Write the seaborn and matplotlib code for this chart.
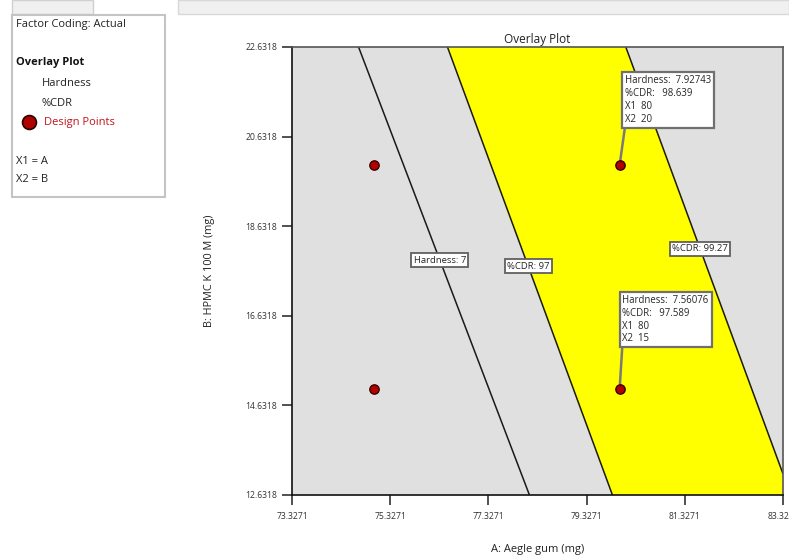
import numpy as np
import pandas as pd
import matplotlib
matplotlib.use("Agg")
import matplotlib.pyplot as plt
from matplotlib.patches import Rectangle
from matplotlib.lines import Line2D
import seaborn as sns

# Factor ranges (actual units) and tick positions
a_range = [73.3271, 83.3271]
b_range = [12.6318, 22.6318]
a_ticks = [73.3271, 75.3271, 77.3271, 79.3271, 81.3271, 83.3271]
b_ticks = [12.6318, 14.6318, 16.6318, 18.6318, 20.6318, 22.6318]

# Design points (A: Aegle gum, B: HPMC K 100 M)
design_a = [75, 75, 80, 80]
design_b = [15, 20, 15, 20]

# Linear response models: [value at A=80, B=15, slope per mg A, slope per mg B]
hardness_model = [7.56076, 0.2107, 0.07333]
cdr_model = [97.589, 0.625, 0.21]

# Contour levels shown on the overlay
hardness_levels = [7]
cdr_levels = [97, 99.27]
# B value where each contour label sits
hardness_label_b = [17.877]
cdr_label_b = [17.74, 18.13]

# Flagged points
flag_a = [80, 80]
flag_b = [20, 15]
flag_hardness = [7.92743, 7.56076]
flag_cdr = [98.639, 97.589]

W, H = 789, 556
sns.set_style("white")
plt.rcParams["font.family"] = ["Open Sans", "DejaVu Sans"]

fig = plt.figure(figsize=(W / 100, H / 100), dpi=100)


def fx(px):
    return px / W


def fy(py):
    return 1 - py / H


ax = fig.add_axes([fx(292), fy(495), fx(783) - fx(292), fy(47) - fy(495)])
ax.set_facecolor("#e0e0e0")


def model(coef, a, b):
    return coef[0] + coef[1] * (np.asarray(a) - 80) + coef[2] * (np.asarray(b) - 15)


def contour_a(coef, level, b):
    return 80 + (level - coef[0] - coef[2] * (b - 15)) / coef[1]


ga, gb = np.meshgrid(np.linspace(a_range[0], a_range[1], 300),
                     np.linspace(b_range[0], b_range[1], 300))
hard = model(hardness_model, ga, gb)
cdr = model(cdr_model, ga, gb)

# Feasible window: %CDR within limits and hardness above its limit
feasible = np.where((cdr >= cdr_levels[0]) & (cdr <= cdr_levels[1]) & (hard >= hardness_levels[0]), 1.0, 0.0)
ax.contourf(ga, gb, feasible, levels=[0.5, 1.5], colors=["#ffff00"], zorder=1)
ax.contour(ga, gb, hard, levels=hardness_levels, colors="#1a1a1a", linewidths=1.1, zorder=2)
ax.contour(ga, gb, cdr, levels=cdr_levels, colors="#1a1a1a", linewidths=1.1, zorder=2)

label_box = dict(boxstyle="square,pad=0.25", fc="white", ec="#606060", lw=1.3)
for lvl, b in zip(hardness_levels, hardness_label_b):
    ax.text(contour_a(hardness_model, lvl, b), b, f"Hardness: {lvl:g}", fontsize=6.8,
            ha="center", va="center", bbox=label_box, zorder=4)
for lvl, b in zip(cdr_levels, cdr_label_b):
    ax.text(contour_a(cdr_model, lvl, b), b, f"%CDR: {lvl:g}", fontsize=6.8,
            ha="center", va="center", bbox=label_box, zorder=4)

pts = pd.DataFrame({"A": design_a, "B": design_b})
sns.scatterplot(data=pts, x="A", y="B", ax=ax, s=45, color="#b00000",
                edgecolor="#3a0000", linewidth=1.0, zorder=6, legend=False)

offsets = [(4.1, 29.0), (2.0, 32.0)]
for a, b, h, c, off in zip(flag_a, flag_b, flag_hardness, flag_cdr, offsets):
    txt = f"Hardness:  {h:g}\n%CDR:   {c:g}\nX1  {a:g}\nX2  {b:g}"
    ax.annotate(txt, xy=(a, b), xytext=off, textcoords="offset points",
                ha="left", va="bottom", fontsize=6.9, linespacing=1.22,
                bbox=dict(boxstyle="square,pad=0.3", fc="white", ec="#707070", lw=1.6),
                arrowprops=dict(arrowstyle="-", color="#7a7a7a", lw=1.8,
                                relpos=(0, 0), shrinkA=0, shrinkB=3),
                zorder=5)

ax.set_xlim(a_range)
ax.set_ylim(b_range)
ax.set_xticks(a_ticks)
ax.set_yticks(b_ticks)
ax.set_xticklabels([f"{t:.4f}" for t in a_ticks])
ax.set_yticklabels([f"{t:.4f}" for t in b_ticks])
ax.tick_params(axis="x", bottom=True, direction="out", length=7, width=1.1,
               color="#222222", labelsize=6.2, pad=5.5)
ax.tick_params(axis="y", left=True, direction="out", length=7.2, width=1.1,
               color="#222222", labelsize=6.2, pad=3.6)
for t in ax.get_xticklabels() + ax.get_yticklabels():
    t.set_color("#333333")
for side in ["left", "bottom"]:
    ax.spines[side].set_color("#111111")
    ax.spines[side].set_linewidth(1.2)
for side in ["top", "right"]:
    ax.spines[side].set_color("#555555")
    ax.spines[side].set_linewidth(1.2)
    ax.spines[side].set_visible(True)

ax.set_title("Overlay Plot", fontsize=8.5, color="#222222", pad=3)
ax.set_xlabel("A: Aegle gum (mg)", fontsize=8, color="#222222", labelpad=16)
ax.set_ylabel("B: HPMC K 100 M (mg)", fontsize=7.8, color="#222222", labelpad=22)

# Window chrome along the top edge
fig.add_artist(Rectangle((fx(12), fy(14)), fx(93) - fx(12), fy(0) - fy(14),
                         transform=fig.transFigure, fc="#f0f0f0", ec="#d0d0d0", lw=1))
fig.add_artist(Rectangle((fx(178), fy(14)), fx(789) - fx(178), fy(0) - fy(14),
                         transform=fig.transFigure, fc="#f0f0f0", ec="#d8d8d8", lw=1))

# Legend panel
fig.add_artist(Rectangle((fx(12), fy(197)), fx(165) - fx(12), fy(15) - fy(197),
                         transform=fig.transFigure, fc="white", ec="#c4c4c4", lw=1.5))
fs = 8
fig.text(fx(16), fy(25), "Factor Coding: Actual", fontsize=fs, va="center", color="#222222")
fig.text(fx(16), fy(63), "Overlay Plot", fontsize=fs, fontweight="bold", va="center", color="#111111")
fig.text(fx(42), fy(84), "Hardness", fontsize=fs, va="center", color="#222222")
fig.text(fx(42), fy(103), "%CDR", fontsize=fs, va="center", color="#222222")
fig.add_artist(Line2D([fx(29)], [fy(122)], transform=fig.transFigure, marker="o",
                      ms=10, mfc="#b00000", mec="#2a0000", mew=1.2, ls="none"))
fig.text(fx(44), fy(122), "Design Points", fontsize=fs, va="center", color="#c0141c")
fig.text(fx(16), fy(161), "X1 = A", fontsize=fs, va="center", color="#222222")
fig.text(fx(16), fy(180), "X2 = B", fontsize=fs, va="center", color="#222222")

fig.savefig("out.png", dpi=100)
